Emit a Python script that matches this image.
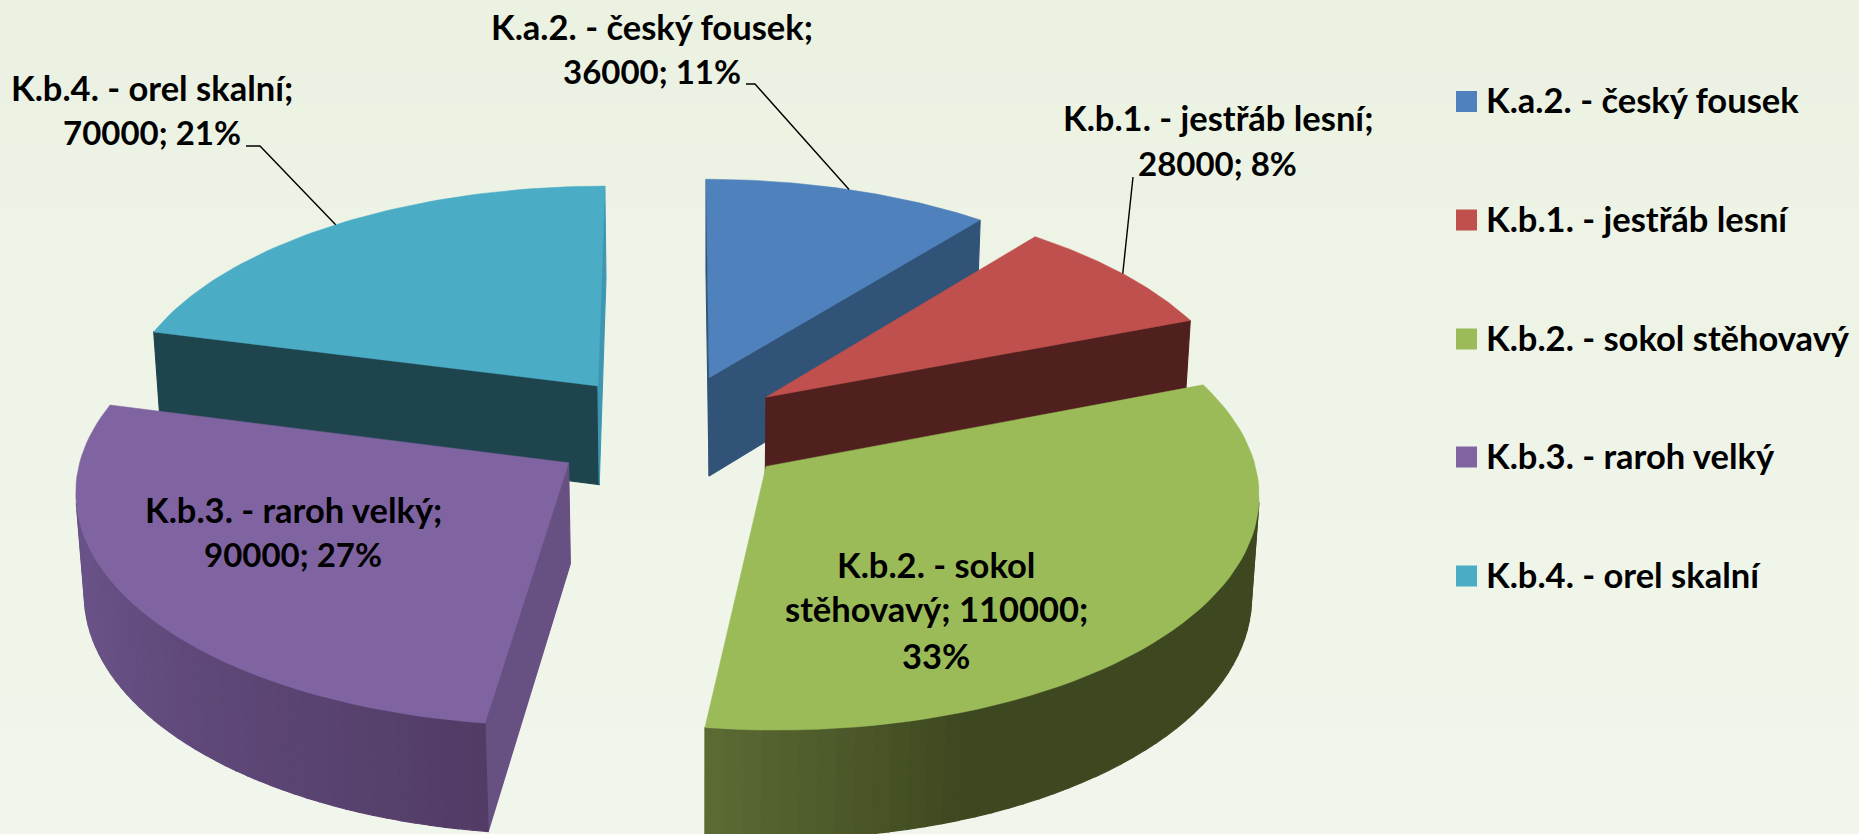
import numpy as np, plotly.graph_objects as go

names = ["K.a.2. - český fousek", "K.b.1. - jestřáb lesní", "K.b.2. - sokol stěhovavý", "K.b.3. - raroh velký", "K.b.4. - orel skalní"]
values = [36000, 28000, 110000, 90000, 70000]
percents = [11, 8, 33, 27, 21]
top_colors = ["#4F81BD", "#C0504D", "#9BBB59", "#8064A2", "#4BACC6"]
wall_colors = [(50, 83, 120), (80, 32, 30), (62, 72, 32), (103, 80, 130), (30, 68, 78)]
grad = {2: ((62, 72, 32), (92, 107, 52), 160, 187.6), 3: ((82, 60, 102), (105, 82, 135), 187.6, 250)}
side_over = {3: {"end": (103, 80, 130), "start": (103, 80, 130)}, 4: {"end": (62, 150, 178)}}

# perspective camera of the 3-D pie: plane homography and depth column
H = np.array([[0.48197, 0.06886, 0.67004], [0.00022, -0.18496, 0.4304], [0.00026, 0.10212, 1.0]])
C = np.array([-0.00939, -0.10708, -0.01341])
EXPLODE = 0.25
FONT = "Lato"
FS = 34.5
FS_NUM = 33

v = np.array(values, float)
ang = np.concatenate([[0], np.cumsum(v) / v.sum() * 2 * np.pi])
mid = (ang[:-1] + ang[1:]) / 2

def proj(X, Y, Z=0.0):
    q = H @ np.array([X, Y, 1.0]) + Z * C
    return q[0] / q[2] * 1000, q[1] / q[2] * 1000

def area(P):
    s = 0
    for i in range(len(P)):
        a, c = P[i], P[(i + 1) % len(P)]
        s += a[0] * c[1] - c[0] * a[1]
    return s

def rgb(c):
    return "rgb(%d,%d,%d)" % tuple(int(round(x)) for x in c)

fig = go.Figure()

# background
B0, B1 = np.array((235, 242, 226)), np.array((241, 246, 236))
shapes = []
nb = 24
for i in range(nb):
    shapes.append(dict(type="rect", layer="below", xref="x", yref="y", x0=0, x1=1859, y0=834 * i / nb, y1=834 * (i + 1) / nb,
                       fillcolor=rgb(B0 + (B1 - B0) * i / (nb - 1)), line=dict(width=0)))

def face(P, color, lw=1.1):
    xs = [p[0] for p in P] + [P[0][0]]
    ys = [p[1] for p in P] + [P[0][1]]
    fig.add_trace(go.Scatter(x=xs, y=ys, mode="lines", fill="toself", fillcolor=color,
                             line=dict(color=color, width=lw), hoverinfo="skip", showlegend=False))

for k in [4, 0, 1, 3, 2]:
    ox, oy = EXPLODE * np.sin(mid[k]), EXPLODE * np.cos(mid[k])
    th = np.linspace(ang[k], ang[k + 1], 61)
    arc = [(ox + np.sin(t), oy + np.cos(t)) for t in th]
    apex = (ox, oy)
    ring = [apex] + arc
    n = len(ring)
    # walls (front-facing only)
    for i in range(n):
        a, c = ring[i], ring[(i + 1) % n]
        Q = [proj(*a), proj(*c), proj(*c, -1.0), proj(*a, -1.0)]
        if area(Q) >= 0:
            continue
        if i == 0:
            col = side_over.get(k, {}).get("start", wall_colors[k])
        elif i == n - 1:
            col = side_over.get(k, {}).get("end", wall_colors[k])
        elif k in grad:
            c0, c1, d0, d1 = grad[k]
            deg = np.degrees((th[i - 1] + th[i]) / 2)
            f = np.clip((deg - d0) / (d1 - d0), 0, 1)
            col = np.array(c0) + (np.array(c1) - np.array(c0)) * f
        else:
            col = wall_colors[k]
        face(Q, rgb(col))
    face([proj(*p) for p in ring], top_colors[k], 0.5)

# leader lines
leaders = {0: [(746, 84), (755, 84)], 1: [(1133, 177)], 4: [(246, 146), (260, 146)]}
for k, pts in leaders.items():
    ox, oy = EXPLODE * np.sin(mid[k]), EXPLODE * np.cos(mid[k])
    end = proj(ox + np.sin(mid[k]), oy + np.cos(mid[k]))
    P = pts + [end]
    fig.add_trace(go.Scatter(x=[p[0] for p in P], y=[p[1] for p in P], mode="lines",
                             line=dict(color="black", width=1.4), hoverinfo="skip", showlegend=False))

# data labels
def val_line(i):
    return f"{values[i]}; {percents[i]}%"
labels = [
    (652, 26, names[0] + ";", FS), (652, 71, val_line(0), FS_NUM),
    (1218, 117, names[1] + ";", FS), (1217, 163, val_line(1), FS_NUM),
    (936, 564, "K.b.2. - sokol", FS), (936, 608, f"stěhovavý; {values[2]};", FS), (936, 655, f"{percents[2]}%", FS),
    (293, 509, names[3] + ";", FS), (293, 554, val_line(3), FS_NUM),
    (152, 87, names[4] + ";", FS), (152, 132, val_line(4), FS_NUM),
]
ann = []
for x, y, t, s in labels:
    ann.append(dict(x=x, y=y, xref="x", yref="y", text=f"<b>{t}</b>", showarrow=False, xanchor="center", yanchor="middle",
                    font=dict(family=FONT, size=s, color="black")))

# legend
leg_y = [101.5, 220, 339, 457, 576]
fig.add_trace(go.Scatter(x=[1466.5] * 5, y=leg_y, mode="markers", text=names, hoverinfo="text", showlegend=False,
                         marker=dict(symbol="square", size=21, color=top_colors, line=dict(width=0))))
for y, t in zip(leg_y, names):
    ann.append(dict(x=1484, y=y - 2, xref="x", yref="y", text=f"<b>{t}</b>", showarrow=False, xanchor="left", yanchor="middle",
                    font=dict(family=FONT, size=FS, color="black")))

fig.update_layout(width=1859, height=834, margin=dict(l=0, r=0, t=0, b=0), shapes=shapes, annotations=ann,
                  paper_bgcolor=rgb(B1), plot_bgcolor=rgb(B1), showlegend=False,
                  xaxis=dict(range=[0, 1859], visible=False, fixedrange=True),
                  yaxis=dict(range=[834, 0], visible=False, fixedrange=True))
fig.write_html("out.html", config={"displayModeBar": False},
               post_script="document.body.style.margin='0';document.documentElement.style.overflow='hidden';")
